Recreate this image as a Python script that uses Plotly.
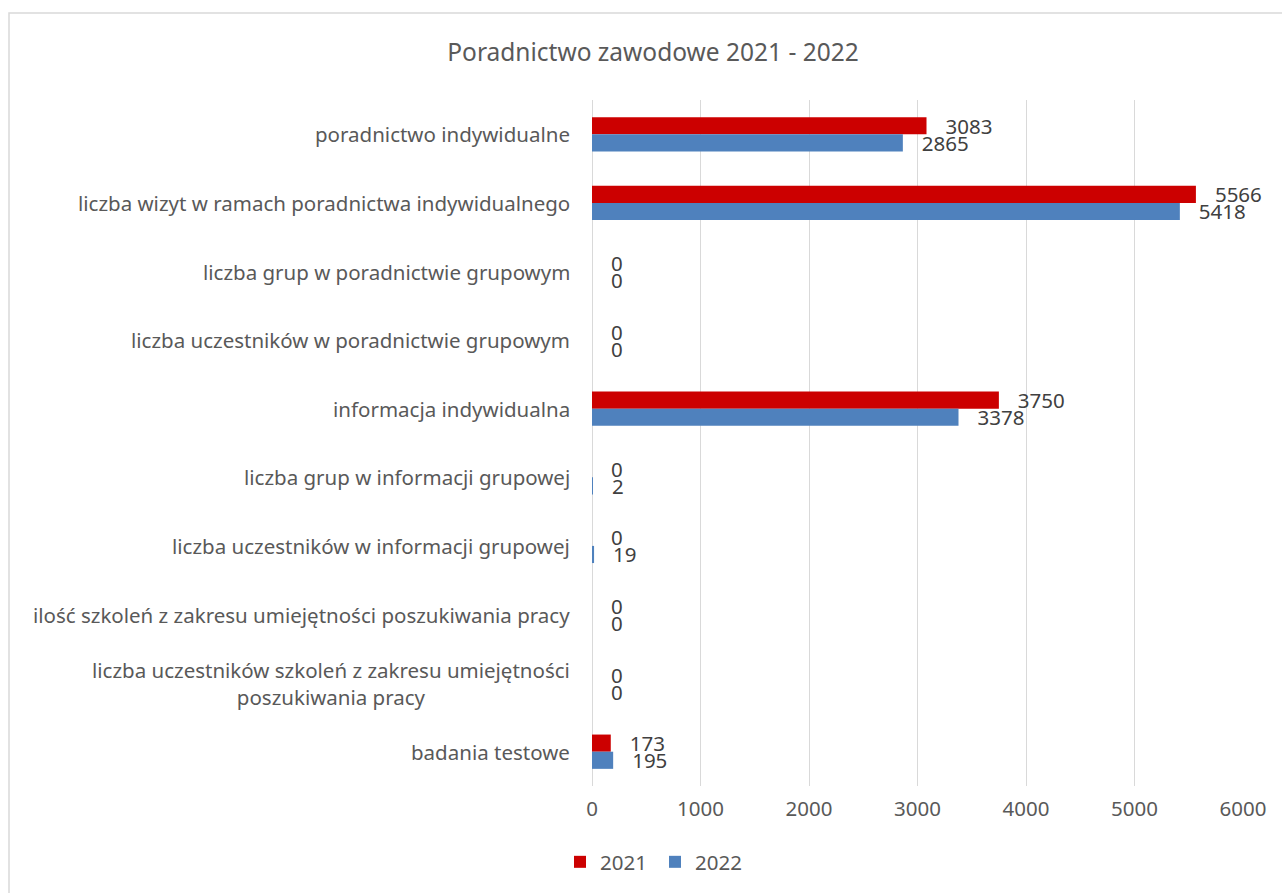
import plotly.graph_objects as go

categories = [
    "poradnictwo indywidualne",
    "liczba wizyt w ramach poradnictwa indywidualnego",
    "liczba grup w poradnictwie grupowym",
    "liczba uczestników w poradnictwie grupowym",
    "informacja indywidualna",
    "liczba grup w informacji grupowej",
    "liczba uczestników w informacji grupowej",
    "ilość szkoleń z zakresu umiejętności poszukiwania pracy",
    "liczba uczestników szkoleń z zakresu umiejętności<br>poszukiwania pracy",
    "badania testowe",
]
values_2021 = [3083, 5566, 0, 0, 3750, 0, 0, 0, 0, 173]
values_2022 = [2865, 5418, 0, 0, 3378, 2, 19, 0, 0, 195]
x_ticks = [0, 1000, 2000, 3000, 4000, 5000, 6000]

FONT = "Noto Sans"
GRAY = "#595959"
LABEL = "#404040"

fig = go.Figure()
for name, vals, color in [("2021", values_2021, "#CC0000"), ("2022", values_2022, "#4F81BD")]:
    fig.add_trace(go.Bar(
        name=name, x=vals, y=categories, orientation="h",
        marker=dict(color=color, line=dict(width=0)),
        text=vals, texttemplate="\u00a0\u00a0\u00a0%{x}", textposition="outside",
        textfont=dict(family=FONT, size=20.5, color=LABEL),
        constraintext="none", cliponaxis=False,
    ))

for c in categories:
    fig.add_annotation(
        x=0, xref="paper", y=c, yref="y", xanchor="right", yanchor="middle",
        xshift=-20, text=c, showarrow=False, align="center",
        font=dict(family=FONT, size=20.5, color=GRAY),
    )

fig.update_layout(
    width=1282, height=893,
    paper_bgcolor="white", plot_bgcolor="white",
    barmode="group", bargap=0.5, bargroupgap=0,
    margin=dict(l=592, r=39, t=100, b=107),
    title=dict(text="Poradnictwo zawodowe 2021 - 2022", x=653 / 1282, xanchor="center",
               y=1 - 52 / 893, yanchor="middle",
               font=dict(family=FONT, size=24.5, color=GRAY)),
    xaxis=dict(range=[0, 6000], tickvals=x_ticks, showgrid=True, gridcolor="#D9D9D9",
               gridwidth=1.3, zeroline=True, zerolinecolor="#D9D9D9", zerolinewidth=1.3,
               showline=False, ticklabelstandoff=8,
               tickfont=dict(family=FONT, size=20.5, color=GRAY)),
    yaxis=dict(autorange="reversed", showticklabels=False, showgrid=False,
               showline=False, zeroline=False),
    legend=dict(orientation="h", xref="container", x=560 / 1282, xanchor="left",
                yref="container", y=1 - 862 / 893, yanchor="middle",
                font=dict(family=FONT, size=20.5, color=GRAY),
                itemwidth=30, entrywidth=50, tracegroupgap=0),
    showlegend=True,
    shapes=[dict(type="rect", xref="paper", yref="paper",
                 x0=(9 - 592) / 651, x1=1.2, y0=-0.5, y1=(786 - 13) / 686,
                 line=dict(color="#D9D9D9", width=1.5), fillcolor="rgba(0,0,0,0)",
                 layer="below")],
)

fig.write_html("out.html", config={"displayModeBar": False},
               post_script="document.body.style.margin='0';")
